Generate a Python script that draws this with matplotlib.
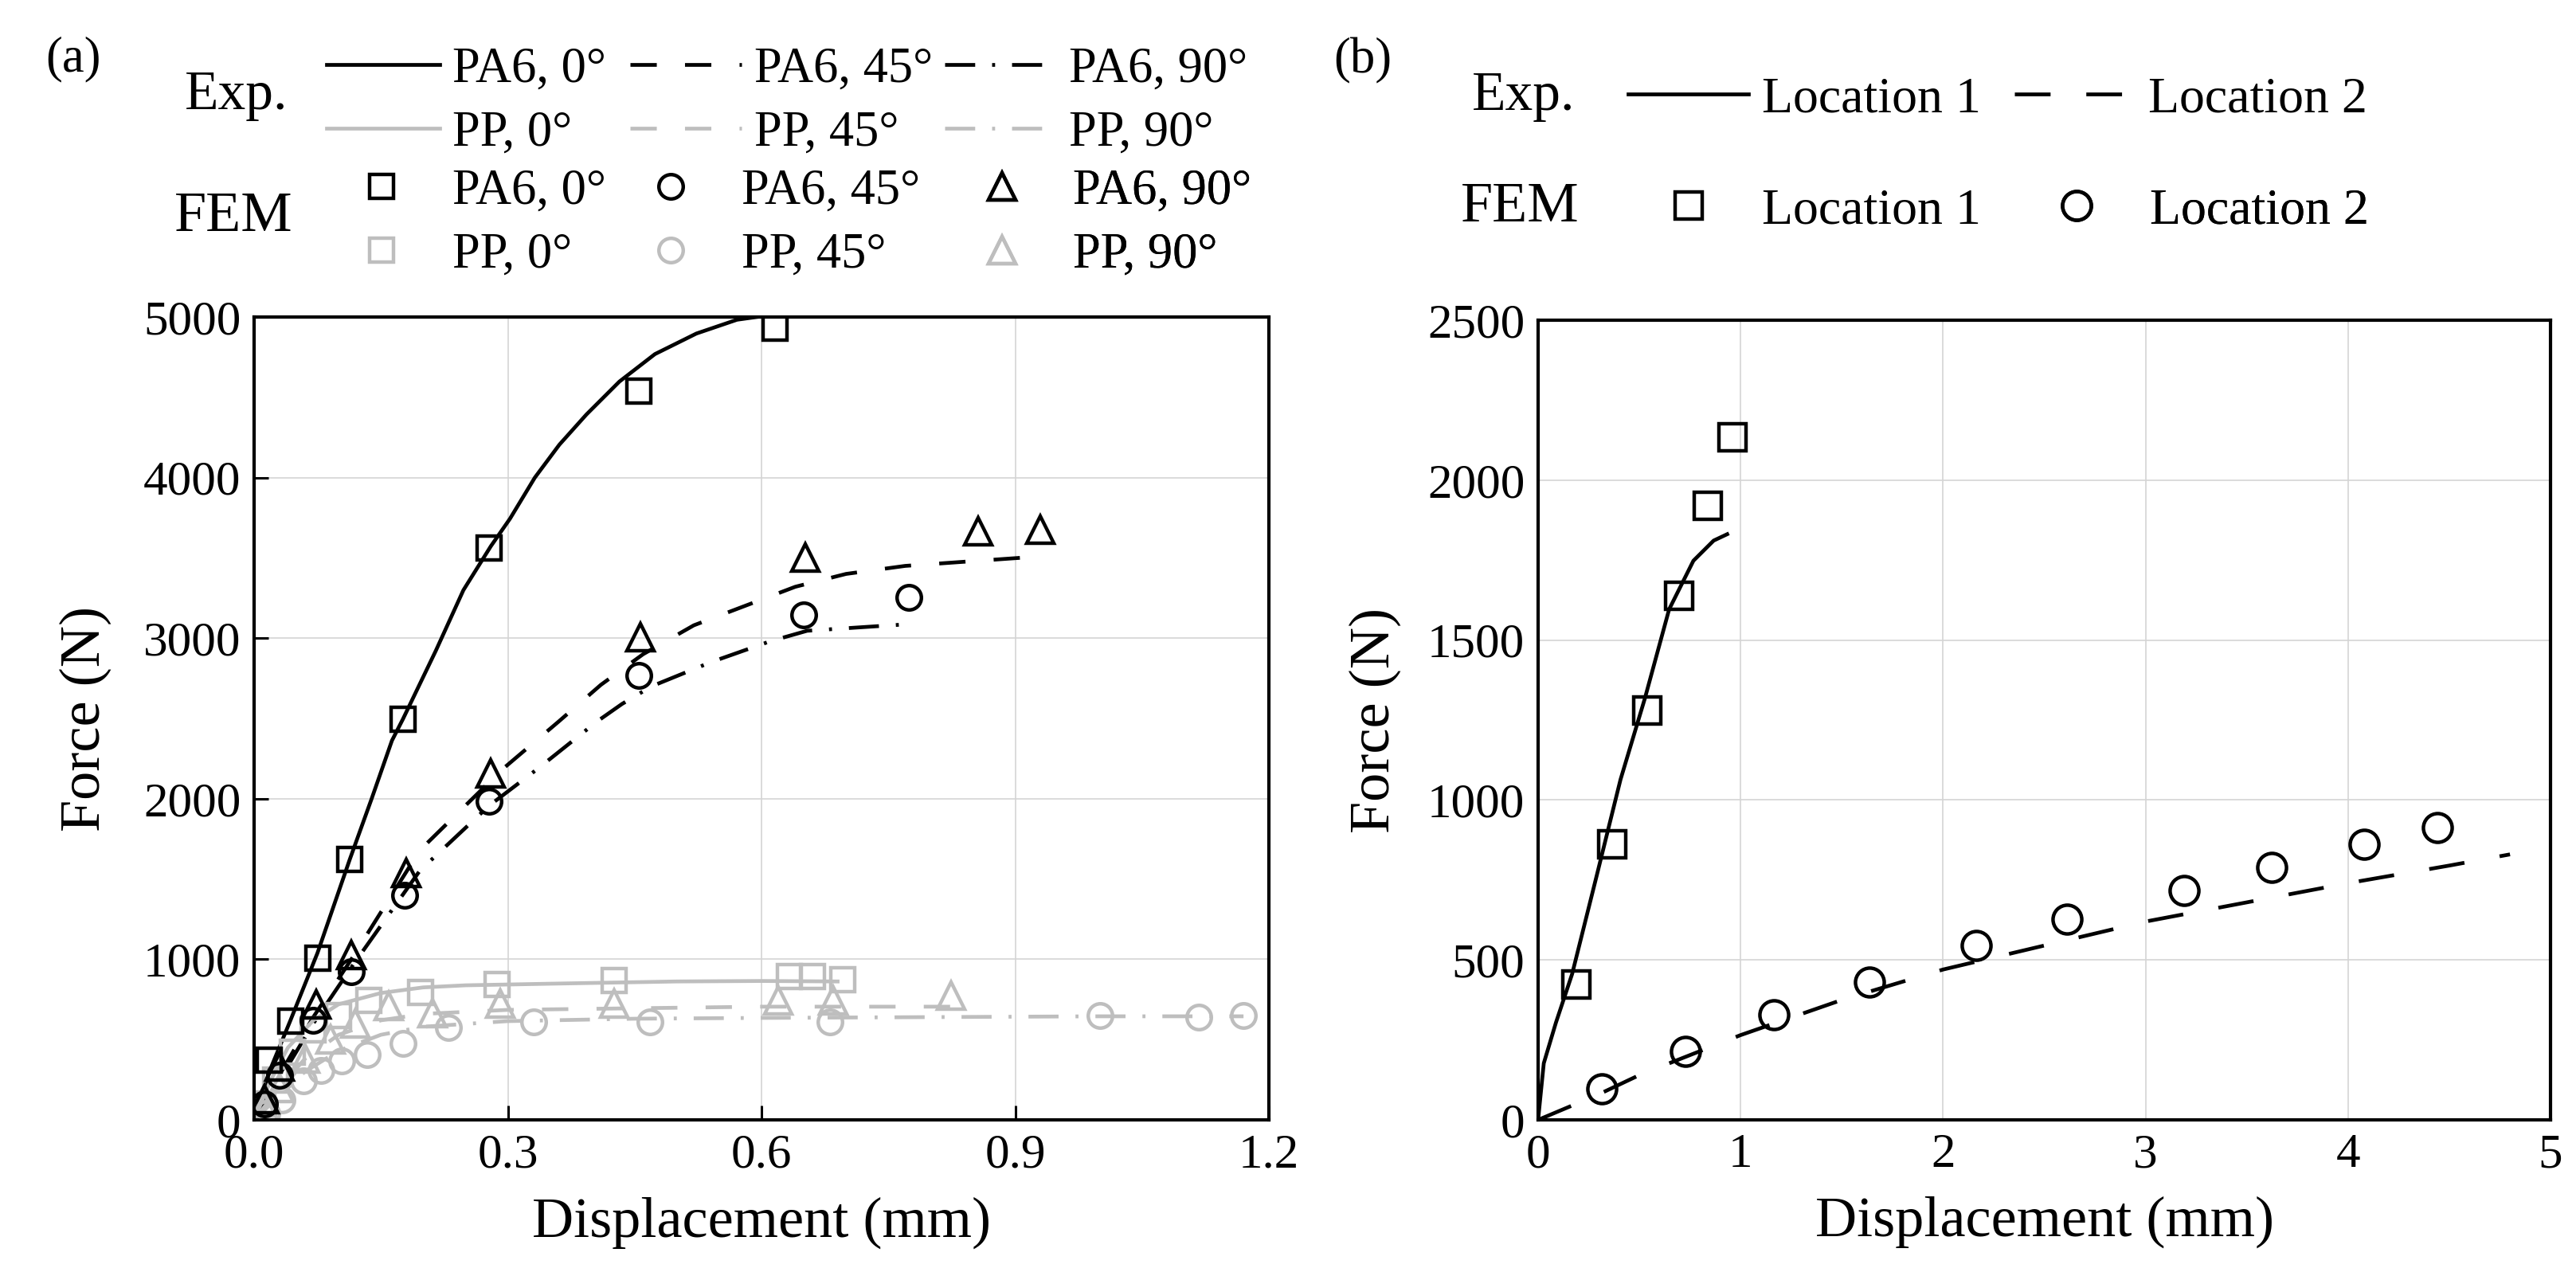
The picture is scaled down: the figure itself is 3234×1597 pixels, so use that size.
import matplotlib.pyplot as plt
from matplotlib.font_manager import FontProperties

plt.rcParams['font.family'] = ['Liberation Serif', 'DejaVu Serif']

GRAY = '#bebebe'
W, H = 3234, 1597

# ---- (a) experimental curves, displacement (mm) / force (N)
pa6_0_x = [0, 0.018, 0.043, 0.075, 0.113, 0.139, 0.163, 0.176, 0.215, 0.2475, 0.28, 0.3026, 0.332,
           0.361, 0.393, 0.432, 0.474, 0.523, 0.571, 0.594]
pa6_0_y = [0, 300, 620, 1040, 1620, 2000, 2362, 2496, 2923, 3299, 3573, 3744, 4000,
           4205, 4393, 4598, 4769, 4897, 4983, 5000]
pa6_45_x = [0, 0.03, 0.07, 0.115, 0.196, 0.294, 0.36, 0.41, 0.46, 0.52, 0.58, 0.64, 0.7, 0.77, 0.908]
pa6_45_y = [0, 280, 640, 1000, 1679, 2185, 2480, 2709, 2900, 3080, 3200, 3320, 3400, 3450, 3501]
pa6_90_x = [0, 0.03, 0.07, 0.115, 0.196, 0.278, 0.335, 0.405, 0.435, 0.47, 0.54, 0.61, 0.654, 0.765]
pa6_90_y = [0, 250, 600, 950, 1552, 1957, 2185, 2479, 2590, 2700, 2850, 2980, 3046, 3084]
pp_0_x = [0, 0.02, 0.04, 0.07, 0.1, 0.15, 0.2, 0.25, 0.35, 0.5, 0.6, 0.69]
pp_0_y = [0, 250, 450, 620, 720, 790, 825, 838, 848, 862, 865, 862]
pp_45_x = [0, 0.03, 0.06, 0.1, 0.15, 0.2, 0.3, 0.45, 0.6, 0.7, 0.83]
pp_45_y = [0, 200, 380, 530, 620, 660, 685, 695, 705, 705, 705]
pp_90_x = [0, 0.03, 0.06, 0.1, 0.15, 0.2, 0.3, 0.45, 0.6, 0.8, 1.0, 1.17]
pp_90_y = [0, 150, 300, 430, 530, 580, 615, 630, 635, 640, 645, 645]

# ---- (a) FEM points
fem_pa6_0_x = [0.018, 0.043, 0.075, 0.113, 0.176, 0.278, 0.455, 0.616]
fem_pa6_0_y = [370, 617, 1008, 1620, 2496, 3560, 4539, 4932]
fem_pa6_45_x = [0.012, 0.03, 0.07, 0.115, 0.178, 0.278, 0.455, 0.65, 0.774]
fem_pa6_45_y = [100, 280, 620, 925, 1400, 1982, 2769, 3147, 3253]
fem_pa6_90_x = [0.012, 0.03, 0.073, 0.115, 0.18, 0.28, 0.457, 0.652, 0.856, 0.93]
fem_pa6_90_y = [130, 330, 717, 1025, 1539, 2160, 3008, 3501, 3666, 3678]
fem_pp_0_x = [0.01, 0.025, 0.045, 0.07, 0.1, 0.136, 0.197, 0.287, 0.426, 0.633, 0.66, 0.696]
fem_pp_0_y = [100, 250, 420, 560, 650, 742, 792, 842, 867, 892, 892, 875]
fem_pp_45_x = [0.015, 0.033, 0.058, 0.079, 0.104, 0.134, 0.176, 0.23, 0.331, 0.468, 0.681, 1.0, 1.117, 1.17]
fem_pp_45_y = [40, 125, 242, 308, 367, 408, 475, 575, 608, 608, 608, 650, 642, 650]
fem_pp_90_x = [0.012, 0.03, 0.06, 0.09, 0.12, 0.159, 0.211, 0.291, 0.426, 0.62, 0.685, 0.824]
fem_pp_90_y = [80, 200, 380, 500, 600, 708, 667, 725, 725, 742, 742, 775]

# ---- (b)
loc1_x = [0, 0.028, 0.088, 0.168, 0.288, 0.407, 0.527, 0.647, 0.767, 0.867, 0.934]
loc1_y = [0, 177, 304, 456, 760, 1064, 1317, 1596, 1748, 1811, 1831]
loc2_x = [0, 0.3, 0.5, 1.0, 1.5, 2.0, 2.5, 3.0, 3.5, 4.0, 4.5, 4.8]
loc2_y = [0, 80, 140, 265, 375, 470, 545, 620, 680, 740, 795, 830]
fem_loc1_x = [0.188, 0.367, 0.539, 0.695, 0.839, 0.958]
fem_loc1_y = [423, 861, 1279, 1639, 1920, 2133]
fem_loc2_x = [0.315, 0.727, 1.166, 1.637, 2.165, 2.612, 3.191, 3.622, 4.081, 4.441]
fem_loc2_y = [96, 215, 329, 431, 545, 628, 717, 790, 861, 914]

DASH = (0, (7, 7.5))
DASHDOT = (0, (8, 4.5, 0.8, 4.5))

fig = plt.figure(figsize=(W / 100, H / 100), dpi=100)
ax1 = fig.add_axes([319 / W, 1 - 1406 / H, 1274 / W, 1008 / H])
ax2 = fig.add_axes([1931 / W, 1 - 1406 / H, 1271 / W, 1004 / H])

lw = 3.4
mk = dict(ls='none', mfc='none', mew=3.2)
l_pa6_0, = ax1.plot(pa6_0_x, pa6_0_y, color='k', lw=lw, ls='-')
l_pa6_45, = ax1.plot(pa6_45_x, pa6_45_y, color='k', lw=lw, ls=DASH)
l_pa6_90, = ax1.plot(pa6_90_x, pa6_90_y, color='k', lw=lw, ls=DASHDOT)
l_pp_0, = ax1.plot(pp_0_x, pp_0_y, color=GRAY, lw=lw, ls='-')
l_pp_45, = ax1.plot(pp_45_x, pp_45_y, color=GRAY, lw=lw, ls=DASH)
l_pp_90, = ax1.plot(pp_90_x, pp_90_y, color=GRAY, lw=lw, ls=DASHDOT)

m_pp_0, = ax1.plot(fem_pp_0_x, fem_pp_0_y, marker='s', ms=21, mec=GRAY, **mk)
m_pp_45, = ax1.plot(fem_pp_45_x, fem_pp_45_y, marker='o', ms=22, mec=GRAY, **mk)
m_pp_90, = ax1.plot(fem_pp_90_x, fem_pp_90_y, marker='^', ms=24, mec=GRAY, **mk)
m_pa6_0, = ax1.plot(fem_pa6_0_x, fem_pa6_0_y, marker='s', ms=21, mec='k', **mk)
m_pa6_45, = ax1.plot(fem_pa6_45_x, fem_pa6_45_y, marker='o', ms=22, mec='k', **mk)
m_pa6_90, = ax1.plot(fem_pa6_90_x, fem_pa6_90_y, marker='^', ms=24, mec='k', **mk)

l_loc1, = ax2.plot(loc1_x, loc1_y, color='k', lw=lw, ls='-')
l_loc2, = ax2.plot(loc2_x, loc2_y, color='k', lw=lw, ls=(0, (9.5, 9.5)))
m_loc1, = ax2.plot(fem_loc1_x, fem_loc1_y, marker='s', ms=25, mec='k', **mk)
m_loc2, = ax2.plot(fem_loc2_x, fem_loc2_y, marker='o', ms=26, mec='k', **mk)

ax1.set_xlim(0, 1.2)
ax1.set_ylim(0, 5000)
ax1.set_xticks([0, 0.3, 0.6, 0.9, 1.2])
ax1.set_xticklabels(['0.0', '0.3', '0.6', '0.9', '1.2'])
ax1.set_yticks(range(0, 5001, 1000))
ax2.set_xlim(0, 5)
ax2.set_ylim(0, 2500)
ax2.set_xticks(range(0, 6))
ax2.set_yticks(range(0, 2501, 500))

for ax, ylx in ((ax1, -0.166), (ax2, -0.161)):
    ax.grid(True, color='#d4d4d4', lw=1.2)
    ax.set_axisbelow(True)
    for s in ax.spines.values():
        s.set_linewidth(3)
    ax.tick_params(direction='in', length=13, width=2.2, labelsize=44, pad=12,
                   top=False, right=False)
    ax.set_xlabel('Displacement (mm)', fontsize=52, va='center')
    ax.set_ylabel('Force (N)', fontsize=52, va='center')
    ax.xaxis.set_label_coords(0.5, -0.128)
    ax.yaxis.set_label_coords(ylx, 0.5)
ax2.tick_params(length=0)


def col_legend(ax, handles, labels, x_px, y_px, fs, hl_px, pad_px):
    fpx = fs * 100 / 72
    leg = ax.legend(handles, labels, loc='upper left',
                    bbox_to_anchor=(x_px / W, 1 - y_px / H),
                    bbox_transform=fig.transFigure, frameon=False,
                    borderpad=0, borderaxespad=0, numpoints=1,
                    handlelength=hl_px / fpx, handletextpad=pad_px / fpx,
                    labelspacing=0.35, prop=FontProperties(family='Liberation Serif', size=fs))
    ax.add_artist(leg)


# panel (a) legend
FS = 45
col_legend(ax1, [l_pa6_0, l_pp_0], ['PA6, 0°', 'PP, 0°'], 410, 59, FS, 142, 16)
col_legend(ax1, [l_pa6_45, l_pp_45], ['PA6, 45°', 'PP, 45°'], 791, 59, FS, 140, 16)
col_legend(ax1, [l_pa6_90, l_pp_90], ['PA6, 90°', 'PP, 90°'], 1186, 59, FS, 140, 16)
col_legend(ax1, [m_pa6_0, m_pp_0], ['PA6, 0°', 'PP, 0°'], 420, 212, FS, 118, 30)
col_legend(ax1, [m_pa6_45, m_pp_45], ['PA6, 45°', 'PP, 45°'], 783, 212, FS, 118, 30)
col_legend(ax1, [m_pa6_90, m_pp_90], ['PA6, 90°', 'PP, 90°'], 1199, 212, FS, 118, 30)
fig.text(92 / W, 1 - 74 / H, '(a)', fontsize=45, ha='center', va='center')
fig.text(297 / W, 1 - 120 / H, 'Exp.', fontsize=50, ha='center', va='center')
fig.text(293 / W, 1 - 272 / H, 'FEM', fontsize=52, ha='center', va='center')

# panel (b) legend
FS2 = 46
col_legend(ax2, [l_loc1], ['Location 1'], 2044, 96, FS2, 151, 17)
col_legend(ax2, [l_loc2], ['Location 2'], 2529, 96, FS2, 151, 17)
col_legend(ax2, [m_loc1], ['Location 1'], 2061, 236, FS2, 118, 33)
col_legend(ax2, [m_loc2], ['Location 2'], 2548, 236, FS2, 118, 33)
fig.text(1711 / W, 1 - 76 / H, '(b)', fontsize=45, ha='center', va='center')
fig.text(1913 / W, 1 - 121 / H, 'Exp.', fontsize=50, ha='center', va='center')
fig.text(1908 / W, 1 - 260 / H, 'FEM', fontsize=52, ha='center', va='center')

fig.savefig('out.png', dpi=100)
